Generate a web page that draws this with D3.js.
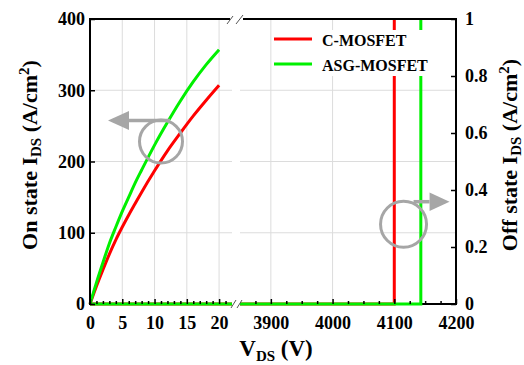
<!DOCTYPE html>
<html>
<head>
<meta charset="utf-8">
<script src="https://cdn.jsdelivr.net/npm/d3@7"></script>
<style>
  body { margin: 0; background: #fff; }
  svg text { font-family: "Liberation Serif", "Times New Roman", serif; font-weight: bold; fill: #000; }
</style>
</head>
<body>
<div id="chart"></div>
<script>
// ---------------- data ----------------
// on-state I-V (left axis, A/cm^2)
const onV = [0, 1, 2, 3, 4, 5, 6, 7, 8, 10, 12, 14, 16, 18, 20];
const onC = [0, 25, 48, 70, 90, 108, 125, 141, 157, 187, 215, 240, 264, 286, 307];
const onASG = [0, 30, 58, 85, 108, 130, 150, 170, 188, 223, 255, 285, 312, 336, 357];

// off-state blocking (right axis, A/cm^2) - zero until breakdown
const offV_C = [0, 4100, 4100];
const offI_C = [0, 0, 1];
const offV_ASG = [0, 4143, 4143];
const offI_ASG = [0, 0, 1];

const seriesNames = ["C-MOSFET", "ASG-MOSFET"];
const seriesColors = ["#ff0000", "#00f000"];

const xTicksLeft = [0, 5, 10, 15, 20];
const xTicksRight = [3900, 4000, 4100, 4200];
const yTicksLeft = [0, 100, 200, 300, 400];
const yTicksRight = [0, 0.2, 0.4, 0.6, 0.8, 1];

// ---------------- layout ----------------
const W = 524, H = 365;
const pTop = 19, pBottom = 304, pLeft = 90, pRight = 456;
const breakL = 232, breakR = 240;
const gridColor = "#dcdcdc";
const annColor = "#a6a6a6";
const FONT = "'Liberation Serif', 'Times New Roman', serif";

const svg = d3.select("#chart").append("svg")
  .attr("width", W).attr("height", H);

const xL = d3.scaleLinear().domain([0, 22]).range([pLeft, breakL]);
const xR = d3.scaleLinear().domain([3850, 4200]).range([breakR, pRight]);
const yL = d3.scaleLinear().domain([0, 400]).range([pBottom, pTop]);
const yR = d3.scaleLinear().domain([0, 1]).range([pBottom, pTop]);

// clip paths for the two broken segments
const defs = svg.append("defs");
defs.append("clipPath").attr("id", "clipL").append("rect")
  .attr("x", pLeft).attr("y", pTop - 2).attr("width", breakL - pLeft).attr("height", pBottom - pTop + 6);
defs.append("clipPath").attr("id", "clipR").append("rect")
  .attr("x", breakR).attr("y", pTop - 2).attr("width", pRight - breakR).attr("height", pBottom - pTop + 6);

// ---------------- grid ----------------
const grid = svg.append("g").attr("stroke", gridColor).attr("stroke-width", 1);
[5, 10, 15, 20].forEach(v => grid.append("line")
  .attr("x1", xL(v)).attr("x2", xL(v)).attr("y1", pTop).attr("y2", pBottom));
[3900, 4000, 4100].forEach(v => grid.append("line")
  .attr("x1", xR(v)).attr("x2", xR(v)).attr("y1", pTop).attr("y2", pBottom));
[100, 200, 300].forEach(v => {
  grid.append("line").attr("x1", pLeft).attr("x2", breakL).attr("y1", yL(v)).attr("y2", yL(v));
  grid.append("line").attr("x1", breakR).attr("x2", pRight).attr("y1", yL(v)).attr("y2", yL(v));
});

// bottom axis base line (mostly hidden under data)
svg.append("line").attr("x1", pLeft).attr("x2", breakL).attr("y1", pBottom).attr("y2", pBottom)
  .attr("stroke", "#000").attr("stroke-width", 2);
svg.append("line").attr("x1", breakR).attr("x2", pRight).attr("y1", pBottom).attr("y2", pBottom)
  .attr("stroke", "#000").attr("stroke-width", 2);

// ---------------- data lines ----------------
function drawOff(vs, is, color) {
  const pts = vs.map((v, i) => [v, is[i]]);
  [["clipL", xL], ["clipR", xR]].forEach(([clip, xs]) => {
    svg.append("path").datum(pts)
      .attr("clip-path", `url(#${clip})`)
      .attr("fill", "none").attr("stroke", color).attr("stroke-width", 3)
      .attr("d", d3.line().x(d => xs(d[0])).y(d => yR(d[1])));
  });
}
drawOff(offV_C, offI_C, seriesColors[0]);
drawOff(offV_ASG, offI_ASG, seriesColors[1]);

[onC, onASG].forEach((vals, k) => {
  svg.append("path").datum(onV.map((v, i) => [v, vals[i]]))
    .attr("fill", "none").attr("stroke", seriesColors[k]).attr("stroke-width", 3)
    .attr("d", d3.line().curve(d3.curveMonotoneX).x(d => xL(d[0])).y(d => yL(d[1])));
});

// ---------------- legend ----------------
const lg = svg.append("g");
lg.append("rect").attr("x", 272).attr("y", 30).attr("width", 172).attr("height", 46).attr("fill", "#fff");
seriesNames.forEach((name, i) => {
  const y = 39 + i * 25;
  lg.append("line").attr("x1", 274).attr("x2", 312).attr("y1", y).attr("y2", y)
    .attr("stroke", seriesColors[i]).attr("stroke-width", 3);
  lg.append("text").attr("x", 322).attr("y", y + 6.5).style("font-size", "16px").text(name);
});

// ---------------- axes ----------------
function styleAxis(g) {
  g.attr("font-family", null).attr("font-size", null);
  g.select(".domain").remove();
  g.selectAll("line").attr("stroke", "#000").attr("stroke-width", 1.5);
  g.selectAll("text").attr("fill", "#000").attr("font-family", FONT)
    .style("font-family", FONT).style("font-size", "18px").style("font-weight", "bold");
}

// bottom: major + minor ticks on each segment
svg.append("g").attr("transform", `translate(0,${pBottom})`)
  .call(d3.axisBottom(xL).tickValues(xTicksLeft).tickSize(-5).tickPadding(12).tickFormat(d => String(d)))
  .call(styleAxis);
svg.append("g").attr("transform", `translate(0,${pBottom})`)
  .call(d3.axisBottom(xL).tickValues(d3.range(1, 22).filter(v => v % 5)).tickSize(-3).tickFormat(""))
  .call(styleAxis);
svg.append("g").attr("transform", `translate(0,${pBottom})`)
  .call(d3.axisBottom(xR).tickValues(xTicksRight).tickSize(-5).tickPadding(12).tickFormat(d => String(d)))
  .call(styleAxis);
svg.append("g").attr("transform", `translate(0,${pBottom})`)
  .call(d3.axisBottom(xR).tickValues(d3.range(3875, 4200, 25).filter(v => v % 100)).tickSize(-3).tickFormat(""))
  .call(styleAxis);

svg.append("g").attr("transform", `translate(${pLeft},0)`)
  .call(d3.axisLeft(yL).tickValues(yTicksLeft).tickSize(-5).tickPadding(5).tickFormat(d => String(d)))
  .call(styleAxis);
svg.append("g").attr("transform", `translate(${pRight},0)`)
  .call(d3.axisRight(yR).tickValues(yTicksRight).tickSize(-5).tickPadding(9).tickFormat(d => String(d)))
  .call(styleAxis);

// frame lines
const frame = svg.append("g").attr("stroke", "#000").attr("stroke-width", 2);
frame.append("line").attr("x1", pLeft).attr("x2", pLeft).attr("y1", pTop - 1).attr("y2", pBottom + 1);
frame.append("line").attr("x1", pRight).attr("x2", pRight).attr("y1", pTop - 1).attr("y2", pBottom + 1);
frame.append("line").attr("x1", pLeft).attr("x2", 230).attr("y1", pTop).attr("y2", pTop);
frame.append("line").attr("x1", 243).attr("x2", pRight).attr("y1", pTop).attr("y2", pTop);

// axis break marks
const brk = svg.append("g").attr("stroke", "#555").attr("stroke-width", 1);
[[227, 24, 233, 16], [236, 24, 243, 15], [231, 308, 236, 300], [237, 308, 242, 300]]
  .forEach(([a, b, c, d]) => brk.append("line").attr("x1", a).attr("y1", b).attr("x2", c).attr("y2", d));

// ---------------- annotations ----------------
function annotate(cx, cy, r, lineStart, headBack, tip, half) {
  const g = svg.append("g");
  g.append("circle").attr("cx", cx).attr("cy", cy).attr("r", r)
    .attr("fill", "none").attr("stroke", annColor).attr("stroke-width", 3);
  const ay = cy - r + 0.5;
  g.append("line").attr("x1", cx + lineStart).attr("x2", cx + headBack).attr("y1", ay).attr("y2", ay)
    .attr("stroke", annColor).attr("stroke-width", 3.5);
  g.append("path")
    .attr("d", `M${cx + tip},${ay} L${cx + headBack},${ay - half} L${cx + headBack},${ay + half} Z`)
    .attr("fill", annColor);
}
annotate(xL(11), yL(228), 21.5, 9, -32, -53, 9.5);
annotate(xR(4115), yR(0.28), 23, 10, 26, 46, 9.2);

// ---------------- titles ----------------
const xt = svg.append("text").attr("x", 276).attr("y", 356)
  .attr("text-anchor", "middle").style("font-size", "23px");
xt.append("tspan").text("V");
xt.append("tspan").style("font-size", "15px").attr("dy", 5).text("DS");
xt.append("tspan").attr("dy", -5).text(" (V)");

function yTitle(x, label) {
  const t = svg.append("text").attr("transform", `translate(${x},155) rotate(-90)`)
    .attr("text-anchor", "middle").style("font-size", "22px");
  t.append("tspan").text(label + " I");
  t.append("tspan").style("font-size", "15px").attr("dy", 4).text("DS");
  t.append("tspan").attr("dy", -4).text(" (A/cm");
  t.append("tspan").style("font-size", "15px").attr("dy", -8).text("2");
  t.append("tspan").attr("dy", 8).text(")");
}
yTitle(37, "On state");
yTitle(517, "Off state");
</script>
</body>
</html>
